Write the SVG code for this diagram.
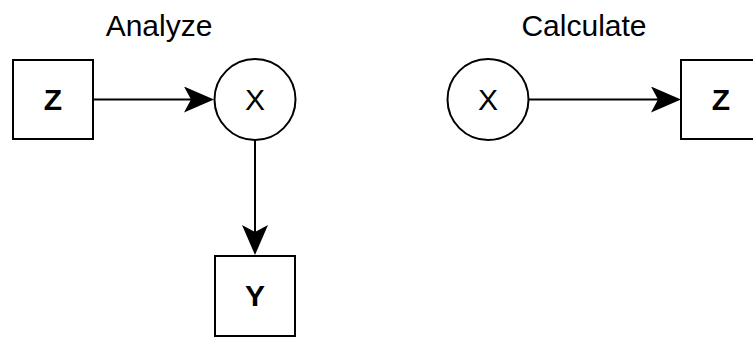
<svg xmlns="http://www.w3.org/2000/svg" width="753" height="338" viewBox="0 0 753 338">
<style>
.box{fill:#fff;stroke:#000;stroke-width:2}
.circ{fill:#fff;stroke:#000;stroke-width:2}
.lbl{font-family:"Liberation Sans",Arial,sans-serif;font-size:30px;fill:#000;text-anchor:middle}
.b{font-weight:bold}
.edge{fill:none;stroke:#000;stroke-width:2}
</style>
<defs>
<marker id="arr" markerUnits="userSpaceOnUse" viewBox="0 0 30 26" refX="7" refY="13" markerWidth="30" markerHeight="26" orient="auto">
<path d="M0,0 L30,13 L0,26 L7,13 Z" fill="#000"/>
</marker>
</defs>
<text class="lbl" x="159" y="36">Analyze</text>
<text class="lbl" x="584" y="36">Calculate</text>
<g id="connectors">
<path class="edge" d="M93,99.5 L191,99.5" marker-end="url(#arr)"/>
<path class="edge" d="M255,140 L255,232" marker-end="url(#arr)"/>
<path class="edge" d="M529,99.5 L658,99.5" marker-end="url(#arr)"/>
</g>
<g id="z1">
<rect class="box" x="13" y="60" width="80" height="79"/>
<text class="lbl b" x="53" y="110">Z</text>
</g>
<g id="x1">
<circle class="circ" cx="255" cy="99.5" r="40.5"/>
<text class="lbl" x="255" y="110">X</text>
</g>
<g id="y1">
<rect class="box" x="215" y="256" width="80" height="80"/>
<text class="lbl b" x="255" y="306">Y</text>
</g>
<g id="x2">
<circle class="circ" cx="488" cy="99.5" r="40.5"/>
<text class="lbl" x="488" y="110">X</text>
</g>
<g id="z2">
<rect class="box" x="681" y="60" width="80" height="79"/>
<text class="lbl b" x="721" y="110">Z</text>
</g>
</svg>
